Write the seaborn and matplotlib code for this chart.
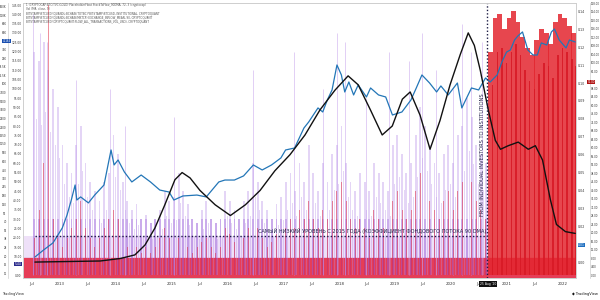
import numpy as np
import pandas as pd
import matplotlib
matplotlib.use("Agg")
import matplotlib.pyplot as plt
from matplotlib.ticker import FixedLocator, NullLocator, FuncFormatter
import seaborn as sns

# ---------------- data ----------------
# monthly flow bars (fill axis units 0..145), Jun 2012 .. Feb 2022
fill_start = "2012-06-16"
purple_vals = [120, 115, 125, 110, 100, 90, 70,
               60, 55, 70, 80, 60, 50, 45, 40, 50, 55, 75, 65,
               50, 40, 35, 38, 30, 32, 28, 30, 35, 45, 40, 42,
               55, 45, 38, 30, 28, 35, 40, 30, 28, 30, 45, 40,
               35, 30, 40, 45, 60, 50, 40, 35, 30, 38, 42, 50,
               55, 45, 60, 50, 70, 55, 45, 60, 50, 65, 70, 80,
               60, 50, 45, 55, 50, 45, 60, 55, 50, 45, 70, 75,
               65, 55, 60, 75, 90, 80, 70, 60, 55, 65, 70, 60,
               75, 80, 95, 85, 70, 65, 60, 40, 20, 20, 20, 20,
               20, 20, 20, 20, 20, 20, 20, 20, 20, 20, 20, 20,
               20, 20]
red_vals = [20, 35, 60, 145, 30, 20, 15,
            20, 25, 30, 40, 25, 20, 15, 20, 25, 30, 35, 30,
            20, 15, 12, 15, 12, 15, 12, 15, 20, 25, 20, 18,
            20, 18, 15, 12, 15, 18, 20, 15, 12, 15, 25, 22,
            18, 15, 20, 25, 30, 25, 20, 15, 18, 22, 20, 25,
            30, 25, 35, 30, 40, 30, 25, 35, 30, 40, 45, 50,
            40, 30, 25, 30, 25, 20, 35, 30, 25, 20, 40, 45,
            35, 30, 35, 45, 55, 50, 40, 35, 30, 40, 45, 35,
            45, 50, 60, 50, 40, 35, 30, 120, 138, 140, 132, 138,
            142, 136, 128, 122, 118, 126, 132, 130, 124, 136, 140, 138,
            134, 130]
spike_dates = ["2012-07-10", "2012-08-20", "2012-10-05", "2013-04-12", "2013-11-20",
               "2014-03-01", "2015-01-15", "2016-06-18", "2017-03-10", "2017-09-15",
               "2017-12-20", "2018-02-06", "2018-06-25", "2018-11-20", "2019-04-02",
               "2019-06-27", "2019-09-24", "2020-01-15", "2020-03-12", "2020-05-10",
               "2020-07-20"]
spike_vals = [140, 130, 125, 105, 100, 80, 85, 110, 120, 100, 130, 125, 95, 120, 115,
              130, 110, 100, 135, 120, 125]

# blue line (log scale)
price_dates = ["2012-07-20", "2012-09-15", "2012-11-15", "2013-01-15", "2013-02-15", "2013-03-15",
               "2013-04-09", "2013-04-20", "2013-05-15", "2013-07-05", "2013-08-15", "2013-10-15",
               "2013-11-30", "2013-12-20", "2014-01-15", "2014-02-25", "2014-04-15", "2014-06-15",
               "2014-08-15", "2014-10-15", "2014-12-15", "2015-01-15", "2015-03-15", "2015-06-15",
               "2015-08-15", "2015-11-05", "2015-12-15", "2016-02-15", "2016-04-15", "2016-06-18",
               "2016-08-15", "2016-10-15", "2016-12-15", "2017-01-15", "2017-03-15", "2017-05-15",
               "2017-06-15", "2017-08-15", "2017-09-15", "2017-10-15", "2017-11-15", "2017-12-17",
               "2018-01-15", "2018-02-06", "2018-03-05", "2018-04-05", "2018-05-05", "2018-06-28",
               "2018-07-25", "2018-09-15", "2018-11-01", "2018-12-15", "2019-02-15", "2019-04-15",
               "2019-05-20", "2019-06-26", "2019-08-15", "2019-09-30", "2019-10-28", "2019-12-15",
               "2020-02-13", "2020-03-13", "2020-05-15", "2020-07-01", "2020-08-15", "2020-09-15",
               "2020-10-30", "2020-11-30", "2020-12-31", "2021-01-25", "2021-02-21", "2021-03-15",
               "2021-04-14", "2021-05-19", "2021-06-22", "2021-07-20", "2021-08-15", "2021-09-20",
               "2021-10-20", "2021-11-09", "2021-12-10", "2022-01-24", "2022-02-15", "2022-03-25"]
price_vals = [19.7, 25.4, 32.7, 56, 89, 153,
              263, 153, 171, 138, 183, 263,
              926, 540, 646, 420, 293, 376,
              293, 219, 204, 153, 177, 183,
              171, 293, 314, 314, 364, 540,
              451, 540, 694, 926, 994, 2040,
              2530, 4200, 3630, 5590, 8020, 19700,
              13750, 7460, 10680, 6700, 9600, 6230,
              8610, 6700, 6230, 3260, 3630, 5590,
              8610, 13750, 10300, 7460, 9260, 6700,
              10300, 4200, 8610, 8020, 12350, 10680,
              13750, 21900, 31400, 33800, 48400, 56000,
              64600, 33800, 28200, 28200, 43500, 40400,
              64600, 71900, 48400, 36300, 48400, 45000]

# stock-to-flow coefficient 90 DMA (black)
s2f_dates = ["2012-07-20", "2013-09-20", "2014-01-30", "2014-05-05", "2014-07-10", "2014-09-13",
             "2014-11-17", "2015-01-22", "2015-03-10", "2015-05-01", "2015-07-05", "2015-10-12",
             "2016-01-20", "2016-04-27", "2016-08-01", "2016-11-06", "2017-02-13", "2017-05-22",
             "2017-08-28", "2017-12-04", "2018-02-28", "2018-05-05", "2018-07-24", "2018-10-09",
             "2018-12-14", "2019-02-18", "2019-04-10", "2019-06-14", "2019-08-18", "2019-10-22",
             "2019-12-27", "2020-03-03", "2020-04-24", "2020-06-03", "2020-07-12", "2020-09-02",
             "2020-10-18", "2020-11-21", "2021-01-11", "2021-03-17", "2021-05-22", "2021-07-07",
             "2021-08-23", "2021-10-13", "2021-11-22", "2022-01-20", "2022-03-25"]
s2f_vals = [0.000, 0.0006, 0.002, 0.004, 0.0095, 0.019,
            0.032, 0.046, 0.050, 0.047, 0.040, 0.032,
            0.026, 0.032, 0.040, 0.051, 0.060, 0.071,
            0.085, 0.096, 0.104, 0.099, 0.085, 0.071,
            0.076, 0.091, 0.095, 0.082, 0.063, 0.079,
            0.099, 0.116, 0.128, 0.121, 0.107, 0.085,
            0.068, 0.063, 0.065, 0.067, 0.063, 0.065,
            0.057, 0.035, 0.021, 0.017, 0.016]

low_level = 0.0145
shift_date = "2020-08-25"
price_ticks = [11, 15, 20, 28, 38, 52, 70, 95, 130, 180, 245, 330, 450, 620, 850,
               1150, 1550, 2100, 2900, 3900, 5300, 7300, 10000, 13500, 18500, 25000, 34000,
               63000, 86000, 118000, 160000]
fill_ticks = [v for v in range(0, 150, 5) if v != 5]
s2f_ticks = [i / 100 for i in range(0, 15) if i != 1]
right_ticks = [v for v in range(0, 132, 4) if v != 92]

russian_text = "САМЫЙ НИЗКИЙ УРОВЕНЬ С 2015 ГОДА (КОЭФФИЦИЕНТ ФОНДОВОГО ПОТОКА 90 DMA)"
vertical_text = "FROM INDIVIDUAL INVESTORS TO INSTITUTIONS"
header_lines = [
    "1 (CRYPTOCAP:BTC/TVC:GOLD) PlaceholderFloat StockToFlow_90DMA, 72, 3 (cryptocap)",
    "Vol (MA, close, 9)",
    "BITSTAMP:BTCUSD/(QUANDL:BCHAIN/TOTBC)*BITSTAMP:BTCUSD, INSTITUTIONAL, CRYPTOQUANT",
    "BITSTAMP:BTCUSD/(QUANDL:BCHAIN/MKTCP) EXCHANGE_INFLOW_MEAN, 90, CRYPTOQUANT",
    "BITSTAMP:BTCUSD/(CRYPTOQUANT:FLOW_ALL_TRANSACTIONS_VOL_USD), CRYPTOQUANT",
]


def kfmt(v, p):
    if v >= 10000:
        return f"{v / 1000:g}K"
    return f"{v:.0f}"


# ---------------- figure ----------------
sns.set_theme(style="white")
plt.rcParams["font.family"] = ["DejaVu Sans"]

W, H = 600, 300
fig = plt.figure(figsize=(6, 3), dpi=100)
fig.patch.set_facecolor("white")
L, B, R, T = 23, 278, 576, 3
ax = fig.add_axes([L / W, 1 - B / H, (R - L) / W, (B - T) / H])

xmin, xmax = pd.Timestamp("2012-05-03"), pd.Timestamp("2022-03-30")
months = pd.date_range(fill_start, periods=len(purple_vals), freq="MS") + pd.Timedelta(days=15)
shift = pd.Timestamp(shift_date)
pre = months < shift
pv = np.array(purple_vals)
rv = np.array(red_vals)

# fill axis
ax.set_ylim(-1.6, 146.1)
ax.axhspan(-1.6, 9, color="#e63d57", zorder=1)
ax.fill_between([xmin, shift], 9, 21, color="#c79be8", alpha=0.3, lw=0, zorder=1)
ax.bar(months[pre], pv[pre], width=12, color="#a774e2", alpha=0.3, linewidth=0, zorder=2)
ax.bar(months[pre], np.minimum(pv[pre], 30), width=12, color="#8a45d0", alpha=0.28,
       linewidth=0, zorder=2)
ax.bar(months[pre] + pd.Timedelta(days=14), pv[pre] * 0.7, width=6, color="#b58be8",
       alpha=0.35, linewidth=0, zorder=2)
ax.vlines(pd.to_datetime(spike_dates), 0, spike_vals, color="#c4a0ec", lw=0.5, alpha=0.7, zorder=2)
ax.bar(months[pre], rv[pre], width=6, color="#e0243a", alpha=0.5, linewidth=0, zorder=3)
ax.bar(months[~pre], rv[~pre], width=31, color="#e3262f", alpha=0.85, linewidth=0, zorder=3)
ax.bar(months[~pre] + pd.Timedelta(days=15), rv[~pre] - 18, width=10, color="#d81a26",
       alpha=0.9, linewidth=0, zorder=3)

ax.yaxis.set_major_locator(FixedLocator(fill_ticks))
ax.yaxis.set_major_formatter(FuncFormatter(lambda v, p: f"{v:.2f}"))
ax.tick_params(axis="y", labelsize=2.1, length=0, pad=1.0, colors="#333333")

# x axis
xt, xl = [], []
for y in range(2012, 2023):
    if y >= 2013:
        xt.append(pd.Timestamp(f"{y}-01-01")); xl.append(str(y))
    if y <= 2021:
        xt.append(pd.Timestamp(f"{y}-07-01")); xl.append("Jul")
ax.set_xticks(xt)
ax.set_xticklabels(xl)
ax.tick_params(axis="x", labelsize=2.8, length=0, pad=3, colors="#333333")

# blue line axis (log) on the far left
axp = ax.twinx()
axp.set_yscale("log")
axp.set_ylim(9.26, 183000)
sns.lineplot(x=pd.to_datetime(price_dates), y=price_vals, ax=axp, color="#2376b7", lw=0.9)
axp.yaxis.set_ticks_position("left")
axp.spines["left"].set_position(("outward", 11))
axp.yaxis.set_major_locator(FixedLocator(price_ticks))
axp.yaxis.set_minor_locator(NullLocator())
axp.yaxis.set_major_formatter(FuncFormatter(kfmt))
axp.tick_params(axis="y", labelsize=1.9, length=0, pad=0.8, colors="#333333")
axp.set_ylabel("")

# stock-to-flow axis (black) on right
axs = ax.twinx()
axs.set_ylim(-0.0089, 0.1447)
sns.lineplot(x=pd.to_datetime(s2f_dates), y=s2f_vals, ax=axs, color="#111111", lw=1.0)
axs.yaxis.set_major_locator(FixedLocator(s2f_ticks))
axs.yaxis.set_major_formatter(FuncFormatter(lambda v, p: f"{v:.2f}"))
axs.tick_params(axis="y", labelsize=2.3, length=0, pad=1.5, colors="#333333")
axs.set_ylabel("")
axs.hlines(low_level, pd.Timestamp("2012-07-20"), shift, colors="#1c1c44",
           linestyles=(0, (1, 1.5)), lw=1.0)
axs.axvline(shift, color="#1c1c44", ls=(0, (1, 1.5)), lw=1.0)
axs.text(shift - pd.Timedelta(days=5), low_level + 0.0012, russian_text, ha="right", va="bottom",
         fontsize=3.6, color="#23234a")
axs.text(pd.Timestamp("2020-07-28"), 0.0257, vertical_text, rotation=90, ha="center", va="bottom",
         fontsize=3.7, color="#23234a")

# far right axis
axr = ax.twinx()
axr.set_ylim(-1.3, 128.1)
axr.spines["right"].set_position(("outward", 10))
axr.yaxis.set_major_locator(FixedLocator(right_ticks))
axr.yaxis.set_major_formatter(FuncFormatter(lambda v, p: f"{v:.2f}"))
axr.tick_params(axis="y", labelsize=1.9, length=0, pad=0.8, colors="#333333")

for a in (ax, axp, axs, axr):
    for s in a.spines.values():
        s.set_color("#cfcfcf")
        s.set_linewidth(0.5)
    a.grid(False)
    a.set_xlim(xmin, xmax)

# header lines
for i, line in enumerate(header_lines):
    fig.text(26 / W, 1 - (5 + i * 4.2) / H, line, fontsize=2.0, color="#555555", va="center", ha="left")

# highlight boxes
fig.text(10.5 / W, 1 - 41 / H, "42164", fontsize=1.9, color="white", ha="right", va="center",
         bbox=dict(boxstyle="square,pad=0.15", fc="#1a4fb0", ec="none"))
fig.text(21.5 / W, 1 - 264 / H, "5.44", fontsize=2.2, color="white", ha="right", va="center",
         bbox=dict(boxstyle="square,pad=0.15", fc="#2b2b8c", ec="none"))
fig.text(578 / W, 1 - 245 / H, "0.01", fontsize=2.2, color="white", ha="left", va="center",
         bbox=dict(boxstyle="square,pad=0.15", fc="#1f6fc0", ec="none"))
fig.text(587.5 / W, 1 - 82 / H, "91.00", fontsize=1.9, color="white", ha="left", va="center",
         bbox=dict(boxstyle="square,pad=0.15", fc="#b01515", ec="none"))
fig.text(488 / W, 1 - 284 / H, "25 Aug '20", fontsize=2.2, color="white", ha="center", va="center",
         bbox=dict(boxstyle="square,pad=0.2", fc="#111111", ec="none"))
fig.text(2 / W, 1 - 294 / H, "TradingView", fontsize=2.6, color="#333333", ha="left", va="center")
fig.text(598 / W, 1 - 294 / H, "\u25c6 TradingView", fontsize=2.6, color="#111111", ha="right", va="center")

fig.savefig("out.png", dpi=100, facecolor="white")
